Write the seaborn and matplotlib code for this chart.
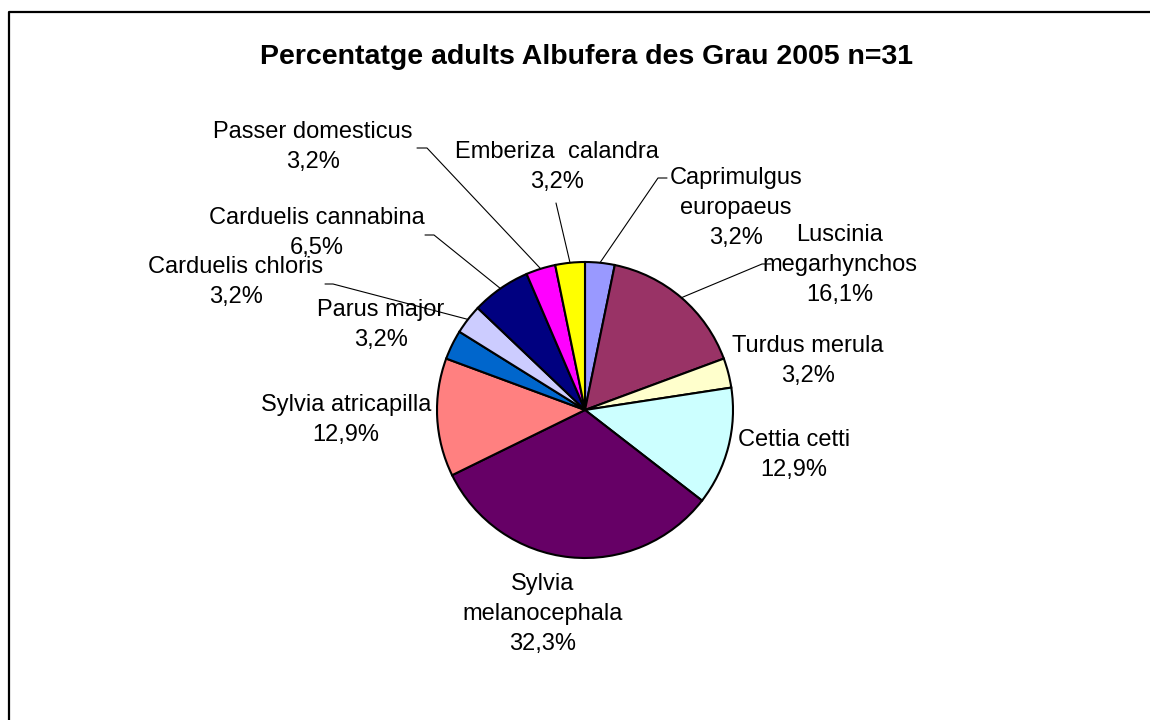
import numpy as np
import matplotlib
matplotlib.use("Agg")
import matplotlib.pyplot as plt
import seaborn as sns

# Data (counts, n=31), clockwise from 12 o'clock
species = ["Caprimulgus\neuropaeus", "Luscinia\nmegarhynchos", "Turdus merula",
           "Cettia cetti", "Sylvia\nmelanocephala", "Sylvia atricapilla",
           "Parus major", "Carduelis chloris", "Carduelis cannabina",
           "Passer domesticus", "Emberiza  calandra"]
counts = [1, 5, 1, 4, 10, 4, 1, 1, 2, 1, 1]
colors = ["#9999FF", "#993366", "#FFFFCC", "#CCFFFF", "#660066", "#FF8080",
          "#0066CC", "#CCCCFF", "#000080", "#FF00FF", "#FFFF00"]
title = "Percentatge adults Albufera des Grau 2005 n=31"

sns.set_theme(style="white")
plt.rcParams["font.family"] = ["Liberation Sans", "DejaVu Sans"]

W, H = 1150, 720
fig = plt.figure(figsize=(11.5, 7.2), dpi=100)
ax = fig.add_axes([0, 0, 1, 1])

# layout in pixel coordinates (y from top)
cx, cy, r = 585, 410, 148
def P(x, y):
    return x, H - y

wedges, _ = ax.pie(counts, colors=sns.color_palette(colors), startangle=90,
                   counterclock=False, center=P(cx, cy), radius=r,
                   wedgeprops=dict(edgecolor="black", linewidth=1.5))
ax.set_xlim(0, W)
ax.set_ylim(0, H)
ax.set_aspect("equal")
ax.axis("off")

# label centres and leader-line bends (pixel coords), per slice
label_pos = [(736, 208), (840, 265), (808, 361), (794, 455), (543, 614),
             (346, 420), (381, 325), (236, 282), (317, 233), (313, 147),
             (557, 167)]
leaders = {0: [(658, 178), (667, 178)],
           1: [(762, 264), (771, 264)],
           7: [(333, 284), (325, 284)],
           8: [(434, 235), (425, 235)],
           9: [(427, 148), (417, 148)],
           10: [(556, 203)]}

total = sum(counts)
cum = 0
for i, (name, c) in enumerate(zip(species, counts)):
    mid = 90 - (cum + c / 2) / total * 360
    cum += c
    pct = f"{c / total * 100:.1f}".replace(".", ",") + "%"
    lx, ly = label_pos[i]
    ax.text(*P(lx, ly), f"{name}\n{pct}", ha="center", va="center",
            fontsize=17, color="black", linespacing=1.45)
    if i in leaders:
        ex = cx + r * np.cos(np.radians(mid))
        ey = cy - r * np.sin(np.radians(mid))
        pts = [(ex, ey)] + leaders[i]
        xs = [p[0] for p in pts]
        ys = [H - p[1] for p in pts]
        ax.plot(xs, ys, color="black", linewidth=0.8)

ax.text(*P(586, 57), title, ha="center", va="center", fontsize=20.5,
        fontweight="bold", color="black")

# chart frame (left and top edges visible)
ax.plot([9, 9, W + 5], [-5, H - 12, H - 12], color="black", linewidth=1.6,
        clip_on=False)

fig.savefig("out.png", dpi=100, facecolor="white")
